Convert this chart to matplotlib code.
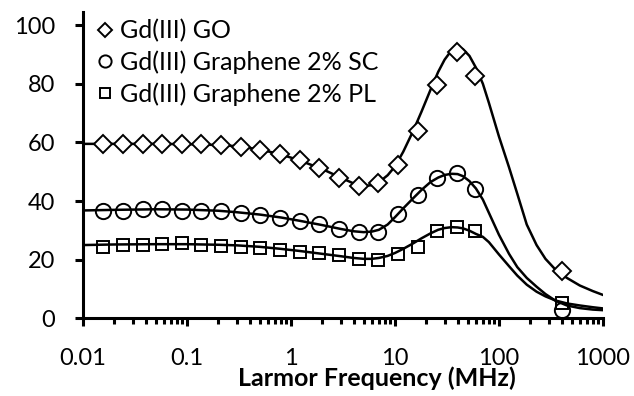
import matplotlib
matplotlib.use('Agg')
import matplotlib.pyplot as plt
from matplotlib.ticker import LogLocator, NullFormatter

plt.rcParams['font.family'] = ['Lato', 'DejaVu Sans']

# measured points
freq = [0.0156, 0.0243, 0.0378, 0.0575, 0.0895, 0.136, 0.212, 0.330, 0.503, 0.784,
        1.22, 1.86, 2.89, 4.51, 6.87, 10.7, 16.6, 25.4, 39.5, 58.7, 404]
go = [59.4, 59.5, 59.5, 59.5, 59.5, 59.5, 59.2, 58.6, 57.5, 56.2,
      54.0, 51.4, 48.0, 45.1, 46.2, 52.4, 63.9, 79.7, 90.8, 82.5, 16.0]
sc = [36.5, 36.7, 37.3, 37.3, 36.7, 36.6, 36.5, 36.0, 35.1, 34.3,
      33.2, 32.1, 30.5, 29.3, 29.5, 35.7, 41.9, 47.9, 49.7, 44.2, 2.8]
pl = [24.5, 25.1, 25.1, 25.3, 25.6, 25.1, 24.8, 24.5, 24.0, 23.4,
      22.8, 22.2, 21.6, 20.1, 20.0, 22.0, 24.5, 29.7, 31.2, 29.7, 5.3]

# fitted curves
fit_f = [0.01, 0.02, 0.05, 0.1, 0.2, 0.3, 0.5, 0.8, 1.2, 2, 3, 4, 5, 6, 7, 8.5,
         10, 12, 15, 18, 22, 26, 30, 35, 40, 45, 52, 60, 70, 80, 100, 125, 150,
         185, 230, 280, 350, 450, 600, 800, 1000]
fit_go = [59.5, 59.5, 59.5, 59.4, 59.1, 58.7, 57.6, 55.9, 53.9, 50.9, 48.0, 46.0,
          45.2, 45.4, 46.4, 48.8, 51.8, 56.8, 64.0, 70.5, 78.0, 84.0, 88.2, 91.4,
          92.5, 91.8, 89.5, 85.5, 80.0, 73.5, 62.0, 51.5, 42.5, 32.0, 25.0, 20.3,
          16.6, 13.8, 11.2, 9.3, 8.0]
fit_sc = [36.8, 37.0, 37.2, 37.1, 36.7, 36.2, 35.4, 34.4, 33.3, 31.8, 30.5, 29.7,
          29.4, 29.6, 30.2, 32.0, 34.5, 37.5, 41.0, 43.8, 46.5, 48.0, 48.9, 49.3,
          49.2, 48.5, 46.8, 44.3, 40.5, 36.0, 28.5, 22.0, 17.5, 13.8, 10.8, 8.3,
          6.0, 4.4, 3.5, 3.0, 2.8]
fit_pl = [25.0, 25.2, 25.3, 25.3, 25.1, 24.9, 24.4, 23.7, 23.0, 22.0, 21.2, 20.6,
          20.3, 20.3, 20.6, 21.3, 22.3, 23.7, 25.6, 27.3, 29.0, 30.2, 30.8, 31.1,
          31.0, 30.7, 29.9, 28.8, 27.8, 26.0, 21.8, 17.8, 14.6, 11.5, 9.1, 7.5,
          6.1, 5.1, 4.4, 3.8, 3.4]

labels = ['Gd(III) GO', 'Gd(III) Graphene 2% SC', 'Gd(III) Graphene 2% PL']

fig = plt.figure(figsize=(6.34, 3.96), dpi=100)
ax = fig.add_axes([0.131, 0.196, 0.82, 0.774])

ax.plot(fit_f, fit_go, color='black', lw=1.8, zorder=2)
ax.plot(fit_f, fit_sc, color='black', lw=1.8, zorder=2)
ax.plot(fit_f, fit_pl, color='black', lw=1.8, zorder=2)

h1, = ax.plot(freq, go, 'D', ms=9, mfc='white', mec='black', mew=1.4, ls='none', label=labels[0], zorder=3)
h2, = ax.plot(freq, sc, 'o', ms=11, mfc='none', mec='black', mew=1.4, ls='none', label=labels[1], zorder=3)
h3, = ax.plot(freq, pl, 's', ms=9, mfc='none', mec='black', mew=1.4, ls='none', label=labels[2], zorder=3)

ax.set_xscale('log')
ax.set_xlim(0.01, 1000)
ax.set_ylim(0, 104.5)
ax.set_yticks([0, 20, 40, 60, 80, 100])
ax.set_xticks([0.01, 0.1, 1, 10, 100, 1000])
ax.set_xticklabels(['0.01', '0.1', '1', '10', '100', '1000'])
ax.xaxis.set_minor_locator(LogLocator(base=10, subs=range(2, 10)))
ax.xaxis.set_minor_formatter(NullFormatter())

for s in ['top', 'right']:
    ax.spines[s].set_visible(False)
for s in ['left', 'bottom']:
    ax.spines[s].set_linewidth(2.2)

ax.tick_params(axis='both', which='major', direction='out', length=6, width=2.2,
               labelsize=17)
ax.tick_params(axis='y', which='major', pad=14)
ax.tick_params(axis='x', which='minor', direction='out', length=4, width=2.2)
ax.tick_params(axis='x', which='major', pad=15)

ax.set_xlabel('Larmor Frequency (MHz)', fontsize=18, fontweight='bold')
ax.xaxis.set_label_coords(0.565, -0.158)

ax.legend(handles=[h1, h2, h3], loc='upper left', bbox_to_anchor=(-0.01, 1.025),
          frameon=False, fontsize=18, handletextpad=0.1, handlelength=1.0,
          labelspacing=0.32, borderaxespad=0.2, markerscale=0.8)

plt.savefig('out.png', dpi=100)
